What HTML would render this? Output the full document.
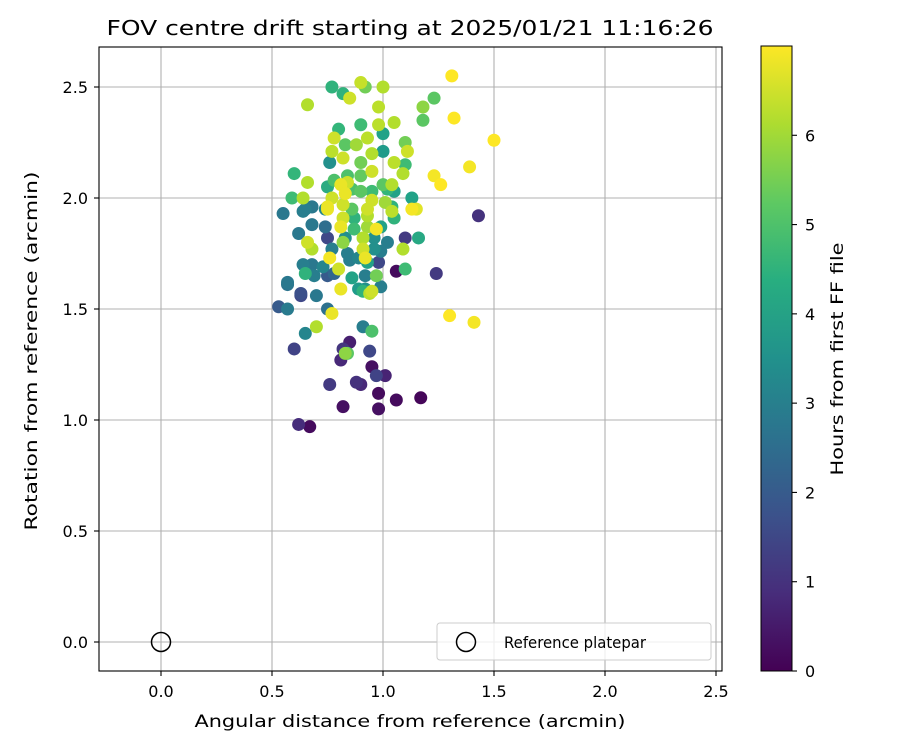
<!DOCTYPE html>
<html><head><meta charset="utf-8"><style>
body{margin:0;background:#fff}
svg text{font-family:"DejaVu Sans","Liberation Sans",sans-serif;fill:#000}
</style></head><body>
<svg id="chart" width="900" height="750" xmlns="http://www.w3.org/2000/svg">
<defs><linearGradient id="vir" x1="0" y1="1" x2="0" y2="0">
<stop offset="0" stop-color="#440154"/><stop offset="0.125" stop-color="#472d7b"/><stop offset="0.25" stop-color="#3b528b"/><stop offset="0.375" stop-color="#2c728e"/><stop offset="0.5" stop-color="#21918c"/><stop offset="0.625" stop-color="#28ae80"/><stop offset="0.75" stop-color="#5ec962"/><stop offset="0.875" stop-color="#addc30"/><stop offset="1" stop-color="#fde725"/></linearGradient></defs>
<text x="410" y="35" font-size="20" text-anchor="middle" textLength="607" lengthAdjust="spacingAndGlyphs">FOV centre drift starting at 2025/01/21 11:16:26</text>
<g id="grid"></g>
<g id="points"></g>
<circle cx="161" cy="642" r="9.5" fill="none" stroke="#000" stroke-width="1.5"/>
<rect x="99" y="47" width="623" height="624" fill="none" stroke="#000" stroke-width="1.1"/>
<g id="axes"></g>
<g>
<rect x="437" y="623" width="274" height="37" rx="3" fill="#fff" fill-opacity="0.8" stroke="#ccc"/>
<circle cx="466" cy="642" r="9.5" fill="none" stroke="#000" stroke-width="1.5"/>
<text x="504" y="648" font-size="16" textLength="142" lengthAdjust="spacingAndGlyphs">Reference platepar</text>
</g>
<text x="410" y="727" font-size="17" text-anchor="middle" textLength="431" lengthAdjust="spacingAndGlyphs">Angular distance from reference (arcmin)</text>
<text transform="translate(37,351) rotate(-90)" font-size="17" text-anchor="middle" textLength="359" lengthAdjust="spacingAndGlyphs">Rotation from reference (arcmin)</text>
<rect x="761" y="46" width="31" height="625" fill="url(#vir)" stroke="#000" stroke-width="1"/>
<g id="cbticks"></g>
<text transform="translate(843,359) rotate(-90)" font-size="17" text-anchor="middle" textLength="233" lengthAdjust="spacingAndGlyphs">Hours from first FF file</text>
</svg>
<script>
const xTicks=[0.0,0.5,1.0,1.5,2.0,2.5];
const yTicks=[0.0,0.5,1.0,1.5,2.0,2.5];
const cbTicks=[0,1,2,3,4,5,6];
const xs=[0.62,0.67,0.82,0.98,1.06,1.17,0.98,0.76,0.88,0.90,0.97,1.01,0.95,0.81,0.82,0.85,0.94,0.60,0.84,0.83,0.91,0.95,0.65,0.70,0.53,0.57,0.75,0.77,0.63,0.63,0.70,0.91,0.94,0.95,0.81,0.57,1.30,1.41,1.24,1.06,1.10,1.43,1.16,1.10,1.09,1.13,1.15,1.13,1.31,1.32,1.50,1.39,1.23,1.26,1.23,1.18,1.18,0.77,0.82,0.90,0.92,0.85,1.00,0.66,0.98,0.90,0.98,1.05,0.80,0.78,0.93,1.00,1.10,1.11,0.88,0.83,0.77,0.76,0.82,0.95,1.00,0.90,0.95,1.05,1.09,1.10,0.84,0.90,0.78,0.84,1.00,1.04,0.60,0.66,0.75,0.81,0.83,0.77,0.86,0.90,0.95,1.02,1.05,0.59,0.64,0.68,0.75,0.82,0.95,1.01,0.55,0.64,0.74,0.86,0.93,1.04,0.65,0.68,0.75,0.82,0.87,0.93,1.04,1.05,0.68,0.74,0.81,0.87,0.93,0.97,0.99,0.62,0.75,0.83,0.91,0.96,1.02,0.66,0.68,0.77,0.82,0.91,0.92,0.96,0.99,0.84,0.76,0.64,0.68,0.73,0.80,0.85,0.89,0.93,0.98,0.65,0.69,0.75,0.78,0.86,0.92,0.97,0.57,0.89,0.92,0.99];
const ys=[0.98,0.97,1.06,1.05,1.09,1.10,1.12,1.16,1.17,1.16,1.20,1.20,1.24,1.27,1.32,1.35,1.31,1.32,1.30,1.30,1.42,1.40,1.39,1.42,1.51,1.50,1.50,1.48,1.56,1.57,1.56,1.58,1.57,1.58,1.59,1.61,1.47,1.44,1.66,1.67,1.68,1.92,1.82,1.82,1.77,1.95,1.95,2.00,2.55,2.36,2.26,2.14,2.10,2.06,2.45,2.41,2.35,2.50,2.47,2.52,2.50,2.45,2.50,2.42,2.41,2.33,2.33,2.34,2.31,2.27,2.27,2.29,2.25,2.21,2.24,2.24,2.21,2.16,2.18,2.20,2.21,2.16,2.12,2.16,2.11,2.15,2.10,2.10,2.08,2.07,2.06,2.06,2.11,2.07,2.05,2.06,2.02,2.00,2.04,2.03,2.03,2.04,2.03,2.00,2.00,1.96,1.96,1.97,1.99,1.98,1.93,1.94,1.95,1.95,1.95,1.96,1.95,1.96,1.95,1.91,1.91,1.92,1.94,1.91,1.88,1.87,1.87,1.86,1.87,1.86,1.87,1.84,1.82,1.82,1.82,1.82,1.80,1.80,1.77,1.77,1.80,1.77,1.73,1.77,1.76,1.75,1.73,1.70,1.70,1.69,1.68,1.72,1.73,1.71,1.71,1.66,1.65,1.65,1.66,1.64,1.65,1.65,1.62,1.59,1.59,1.60];
const hrs=[0.9,0.2,0.3,0.3,0.2,0.1,0.2,1.2,1.0,0.8,1.4,0.7,0.3,0.8,1.1,0.6,1.5,1.4,5.2,5.8,3.0,5.0,3.2,6.2,2.0,2.9,2.6,6.8,1.5,1.7,2.8,4.5,6.3,6.5,6.8,2.7,7.0,6.9,1.2,0.2,4.8,1.0,4.2,1.2,6.2,6.9,6.7,4.0,7.0,7.0,7.0,6.9,6.9,7.0,5.2,5.8,5.2,4.5,4.5,6.4,5.5,6.5,6.2,6.2,6.3,4.8,6.3,6.2,4.6,6.5,6.3,4.0,5.5,6.5,6.0,5.2,6.3,3.5,6.5,6.2,3.8,5.5,6.5,6.3,6.2,4.8,5.0,5.3,5.0,6.5,5.2,6.2,4.6,6.2,4.3,6.8,6.8,6.5,5.0,5.2,4.8,4.6,4.0,4.8,6.2,2.8,6.8,6.5,6.5,6.0,2.8,3.0,3.2,5.2,6.5,4.5,3.0,2.8,6.8,6.5,4.5,6.2,6.3,4.5,2.8,2.5,6.8,4.8,6.0,6.9,4.0,2.8,1.5,3.5,6.2,3.5,3.0,6.5,6.2,3.0,5.8,6.5,6.8,3.5,3.0,3.0,6.9,3.0,2.8,3.2,6.5,3.0,3.2,4.0,1.5,4.5,3.0,2.0,2.3,4.0,3.0,5.5,2.8,3.8,3.5,3.0];
const X0=161,XS=222,Y0=642,YS=222,VMAX=7.0;
const sx=v=>X0+v*XS, sy=v=>Y0-v*YS, sc=v=>671-v*(625/VMAX);
const NS="http://www.w3.org/2000/svg";
const vir=[[68,1,84],[72,40,120],[62,74,137],[49,104,142],[38,130,142],[31,158,137],[53,183,121],[109,205,89],[180,222,44],[253,231,37]];
function cmap(h){let t=Math.max(0,Math.min(1,h/VMAX))*(vir.length-1);let i=Math.min(Math.floor(t),vir.length-2),f=t-i;const c=vir[i].map((a,k)=>Math.round(a+(vir[i+1][k]-a)*f));return `rgb(${c})`;}
function mk(tag,attrs,parent){const e=document.createElementNS(NS,tag);for(const k in attrs)e.setAttribute(k,attrs[k]);parent.appendChild(e);return e;}
const grid=document.getElementById('grid'),axes=document.getElementById('axes');
xTicks.forEach(v=>{
 const l=mk('line',{x1:sx(v),x2:sx(v),y1:47,y2:671,stroke:'#b0b0b0','stroke-width':1.1},grid);
 
 
 const t=mk('line',{x1:sx(v),x2:sx(v),y1:671,y2:676,stroke:'#000','stroke-width':1.1},axes);
 
 
 const tx=mk('text',{x:sx(v),y:697,'font-size':16,'text-anchor':'middle'},axes);tx.textContent=v.toFixed(1);
 
 
});
yTicks.forEach(v=>{
 const l=mk('line',{x1:99,x2:722,y1:sy(v),y2:sy(v),stroke:'#b0b0b0','stroke-width':1.1},grid);
 
 
 const t=mk('line',{x1:94,x2:99,y1:sy(v),y2:sy(v),stroke:'#000','stroke-width':1.1},axes);
 
 
 const tx=mk('text',{x:88,y:sy(v)+6,'font-size':16,'text-anchor':'end'},axes);tx.textContent=v.toFixed(1);
 
 
});
const cb=document.getElementById('cbticks');
cbTicks.forEach(v=>{
 const t=mk('line',{x1:792,x2:797,y1:sc(v),y2:sc(v),stroke:'#000','stroke-width':1.1},cb);
 
 
 const tx=mk('text',{x:805,y:sc(v)+6,'font-size':16},cb);tx.textContent=v;
 
 
});
const pts=document.getElementById('points');
const idx=hrs.map((h,i)=>i).sort((a,b)=>hrs[a]-hrs[b]);
idx.forEach(i=>{
 const c=mk('circle',{cx:sx(xs[i]),cy:sy(ys[i]),r:6.5,fill:cmap(hrs[i])},pts);
 
 
});
</script>
</body></html>
